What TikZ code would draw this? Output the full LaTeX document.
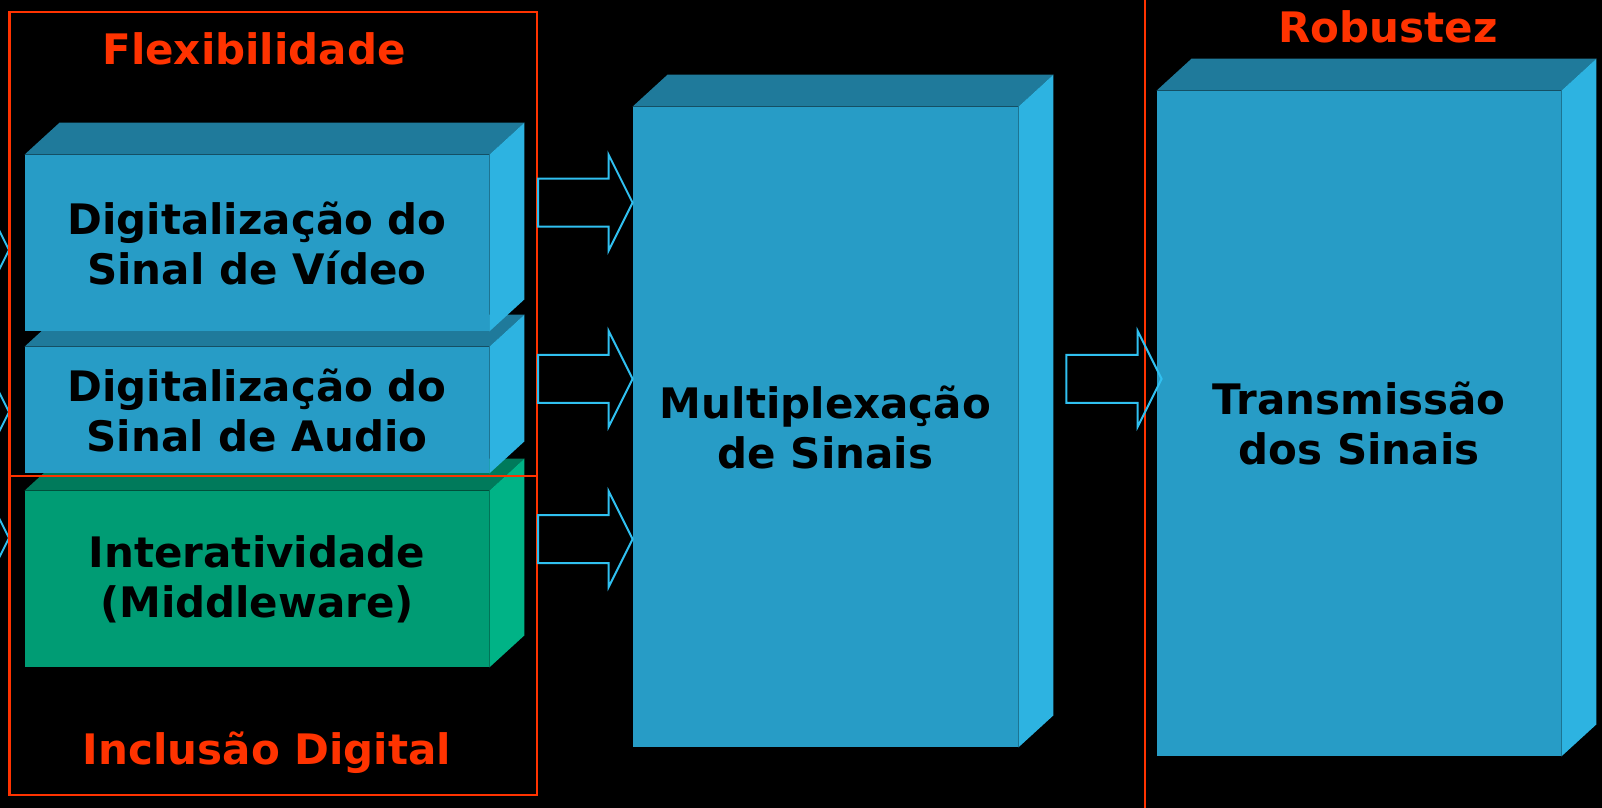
\documentclass[tikz,border=0pt]{standalone}
\usepackage{fontspec}
\setmainfont{DejaVu Sans}
\usetikzlibrary{calc}

\definecolor{frente}{HTML}{279CC6}
\definecolor{topo}{HTML}{1F7A9B}
\definecolor{lado}{HTML}{2DB3E1}
\definecolor{frenteverde}{HTML}{009C74}
\definecolor{topoverde}{HTML}{007A5B}
\definecolor{ladoverde}{HTML}{00B386}
\definecolor{vermelho}{HTML}{FF3300}
\definecolor{ciano}{HTML}{30C0F0}

% faces de cima e do lado de um bloco
\newcommand{\faces}[3]{%
  \fill[#2] (#1.north west) -- ++(35,-32) -- ($(#1.north east)+(35,-32)$) -- (#1.north east) -- cycle;
  \fill[#3] (#1.north east) -- ++(35,-32) -- ($(#1.south east)+(35,-32)$) -- (#1.south east) -- cycle;}

% seta larga (contorno)
\newcommand{\setabloco}[2]{%
  \draw[seta] let \p1=(#1), \p2=(#2) in
    (\x1,\y2+12pt) -- (\x2-12pt,\y2+12pt) -- (\x2-12pt,\y2+24pt) -- (\x2,\y2)
    -- (\x2-12pt,\y2-24pt) -- (\x2-12pt,\y2-12pt) -- (\x1,\y2-12pt) -- cycle;}

\begin{document}
\begin{tikzpicture}[x=0.5pt,y=-0.5pt,
    bloco/.style={inner sep=0pt,align=center,text=black,
      font=\bfseries\fontsize{21}{25}\selectfont},
    titulo/.style={text=vermelho,font=\bfseries\fontsize{21}{25}\selectfont},
    seta/.style={draw=ciano,line width=1pt,line join=miter},
    moldura/.style={draw=vermelho,line width=1pt}]

    % Fundo
    \useasboundingbox (0,0) rectangle (1602,808);
    \fill[black] (0,0) rectangle (1602,808);

    % Blocos da esquerda
    \node[bloco,fill=frenteverde,minimum width=232pt,minimum height=88pt] (inter) at (257,579)
        {Interatividade\\(Middleware)};
    \faces{inter}{topoverde}{ladoverde}
    \node[bloco,fill=frente,minimum width=232pt,minimum height=63pt] (audio) at (257,410)
        {Digitalização do\\Sinal de Audio};
    \faces{audio}{topo}{lado}
    \node[bloco,fill=frente,minimum width=232pt,minimum height=88pt] (video) at (257,243)
        {Digitalização do\\Sinal de Vídeo};
    \faces{video}{topo}{lado}

    % Multiplexação e transmissão
    \node[bloco,fill=frente,minimum width=192.5pt,minimum height=320pt] (mux) at (825.5,427)
        {Multiplexação\\de Sinais};
    \faces{mux}{topo}{lado}
    \node[bloco,fill=frente,minimum width=202pt,minimum height=332.5pt] (trans) at (1359,423.5)
        {Transmissão\\dos Sinais};
    \faces{trans}{topo}{lado}

    % Molduras
    \node[moldura,minimum width=263.5pt,minimum height=391.5pt,inner sep=0pt] (flex) at (273.5,403.5) {};
    \draw[moldura] (flex.west |- 0,476) -- (flex.east |- 0,476);
    \draw[moldura] (1145,0) -- (1145,808);

    % Setas
    \coordinate (mux1) at ($(mux.north west)!0.15!(mux.south west)$);
    \coordinate (mux2) at ($(mux.north west)!0.425!(mux.south west)$);
    \coordinate (mux3) at ($(mux.north west)!0.675!(mux.south west)$);
    \coordinate (tr1) at ($(trans.north west)!0.433!(trans.south west)+(5,0)$);
    \setabloco{flex.east |- mux1}{mux1}
    \setabloco{flex.east |- mux2}{mux2}
    \setabloco{flex.east |- mux3}{mux3}
    \setabloco{$(mux.east |- tr1)+(48,0)$}{tr1}

    % Entradas (vindas de fora)
    \coordinate (fora) at (-100,0);
    \coordinate (ent1) at (9,250);
    \coordinate (ent2) at (9,412);
    \coordinate (ent3) at (9,538);
    \setabloco{fora |- ent1}{ent1}
    \setabloco{fora |- ent2}{ent2}
    \setabloco{fora |- ent3}{ent3}
    \draw[moldura] (flex.north west) -- (flex.south west);

    % Títulos
    \node[titulo] (flexib) at (254,49) {Flexibilidade};
    \node[titulo] (inclusao) at (267,753) {Inclusão Digital};
    \node[titulo] (robustez) at (1388,27) {Robustez};
\end{tikzpicture}
\end{document}
